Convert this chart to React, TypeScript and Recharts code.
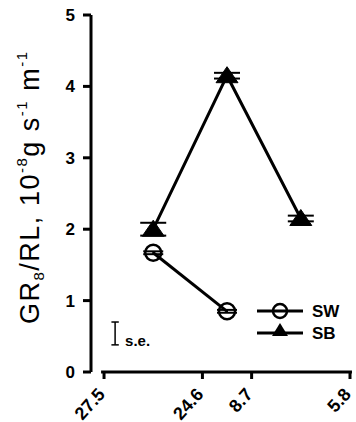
import React from "react";
import { LineChart, Line, XAxis, YAxis, ErrorBar, ReferenceLine, Legend } from "recharts";

// x positions of the three sampling points on the (ordinal-like) axis
const xPositions = [2, 5, 8];
const seriesNames = ["SW", "SB"];
const swValues = [1.67, 0.85];
const swErrors = [0.02, 0.02];
const sbValues = [2.0, 4.15, 2.15];
const sbErrors = [0.09, 0.04, 0.04];

const xTickPositions = [0, 4, 6, 10];
const xTickLabels = ["27.5", "24.6", "8.7", "5.8"];
const yTicks = [0, 1, 2, 3, 4, 5];

// s.e. key bar
const seX = 0.45;
const seLow = 0.38;
const seHigh = 0.7;

const FONT = "'Liberation Sans', Arial, sans-serif";

const data = xPositions.map((x, i) => ({
  x,
  sw: swValues[i],
  swErr: swErrors[i],
  sb: sbValues[i],
  sbErr: sbErrors[i],
}));

const OpenCircle = (props: any) => {
  const { cx, cy, index } = props;
  if (cx == null || cy == null) return <g key={`c${index}`} />;
  return <circle key={`c${index}`} cx={cx} cy={cy} r={8} fill="none" stroke="#000" strokeWidth={2.5} />;
};

const FilledTriangle = (props: any) => {
  const { cx, cy, index } = props;
  if (cx == null || cy == null) return <g key={`t${index}`} />;
  return (
    <polygon
      key={`t${index}`}
      points={`${cx},${cy - 9} ${cx + 11},${cy + 7} ${cx - 11},${cy + 7}`}
      fill="#000"
      stroke="#000"
      strokeWidth={1}
    />
  );
};

const XTick = ({ x, y, payload }: any) => {
  const label = xTickLabels[xTickPositions.indexOf(payload.value)];
  const px = x + 2;
  const py = y + 14;
  return (
    <text
      x={px}
      y={py}
      transform={`rotate(-48 ${px} ${py})`}
      textAnchor="end"
      fontSize={18}
      fontWeight="bold"
      fontFamily={FONT}
      fill="#000"
    >
      {label}
    </text>
  );
};

const YLabel = () => (
  <text
    x={39}
    y={188}
    transform="rotate(-90 39 188)"
    textAnchor="middle"
    fontSize={27}
    fontFamily={FONT}
    fill="#000"
    textLength={272}
    lengthAdjust="spacing"
  >
    GR
    <tspan fontSize={15} dy={5}>8</tspan>
    <tspan dy={-5}>/RL, 10</tspan>
    <tspan fontSize={15} dy={-12}>-8</tspan>
    <tspan dy={12}>g s</tspan>
    <tspan fontSize={15} dy={-12}>-1</tspan>
    <tspan dy={12}> m</tspan>
    <tspan fontSize={15} dy={-12}>-1</tspan>
  </text>
);

const SeLabel = ({ viewBox }: any) => {
  if (!viewBox) return null;
  return (
    <text x={viewBox.x + 10} y={viewBox.y + viewBox.height + 1} fontSize={15} fontWeight="bold" fontFamily={FONT} fill="#000">
      s.e.
    </text>
  );
};

const LegendContent = ({ payload }: any) => {
  const entries = seriesNames.map((n) => (payload || []).find((p: any) => p.value === n)).filter(Boolean);
  return (
    <svg width={100} height={46}>
      {entries.map((entry: any, i: number) => {
        const cy = 11 + i * 22;
        return (
          <g key={entry.value}>
            <line x1={7} x2={53} y1={cy} y2={cy} stroke="#000" strokeWidth={3} />
            {entry.value === "SW" ? (
              <circle cx={30} cy={cy} r={7} fill="none" stroke="#000" strokeWidth={2.5} />
            ) : (
              <polygon points={`30,${cy - 10} 38,${cy + 3} 22,${cy + 3}`} fill="#000" />
            )}
            <text x={62} y={cy + 6} fontSize={17} fontWeight="bold" fontFamily={FONT} fill="#000">
              {entry.value}
            </text>
          </g>
        );
      })}
    </svg>
  );
};

export default function App() {
  return (
    <div style={{ position: "absolute", left: 0, top: 0, background: "#fff" }}>
      <LineChart width={356} height={422} data={data} margin={{ top: 15, right: 6, bottom: 0, left: 0 }}>
        <XAxis
          type="number"
          dataKey="x"
          domain={[-0.53, 10]}
          ticks={xTickPositions}
          axisLine={false}
          tickLine={{ stroke: "#000", strokeWidth: 3 }}
          tickSize={7}
          height={50}
          tick={<XTick />}
          interval={0}
        />
        <YAxis
          type="number"
          domain={[0, 5]}
          ticks={yTicks}
          width={91}
          axisLine={{ stroke: "#000", strokeWidth: 3 }}
          tickLine={{ stroke: "#000", strokeWidth: 3 }}
          tickSize={8}
          tickMargin={8}
          tick={{ fill: "#000", fontSize: 17, fontWeight: "bold", fontFamily: FONT }}
          label={{ content: <YLabel /> }}
        />
        <ReferenceLine
          segment={[{ x: -0.12, y: 0 }, { x: 10.08, y: 0 }]}
          stroke="#000"
          strokeWidth={3}
          ifOverflow="visible"
        />
        <ReferenceLine
          segment={[{ x: seX, y: seLow }, { x: seX, y: seHigh }]}
          stroke="#000"
          strokeWidth={1.5}
          ifOverflow="visible"
          label={<SeLabel />}
        />
        <ReferenceLine segment={[{ x: seX - 0.15, y: seLow }, { x: seX + 0.15, y: seLow }]} stroke="#000" strokeWidth={1.5} />
        <ReferenceLine segment={[{ x: seX - 0.15, y: seHigh }, { x: seX + 0.15, y: seHigh }]} stroke="#000" strokeWidth={1.5} />
        <Legend
          layout="vertical"
          align="center"
          verticalAlign="middle"
          content={<LegendContent />}
          wrapperStyle={{ left: 250, top: 300, width: 100 }}
        />
        <Line
          name="SW"
          dataKey="sw"
          stroke="#000"
          strokeWidth={3}
          dot={OpenCircle}
          isAnimationActive={false}
          legendType="circle"
        >
          <ErrorBar dataKey="swErr" width={10} stroke="#000" strokeWidth={2} isAnimationActive={false} />
        </Line>
        <Line
          name="SB"
          dataKey="sb"
          stroke="#000"
          strokeWidth={3}
          dot={FilledTriangle}
          isAnimationActive={false}
          legendType="triangle"
        >
          <ErrorBar dataKey="sbErr" width={13} stroke="#000" strokeWidth={2} isAnimationActive={false} />
        </Line>
      </LineChart>
    </div>
  );
}
